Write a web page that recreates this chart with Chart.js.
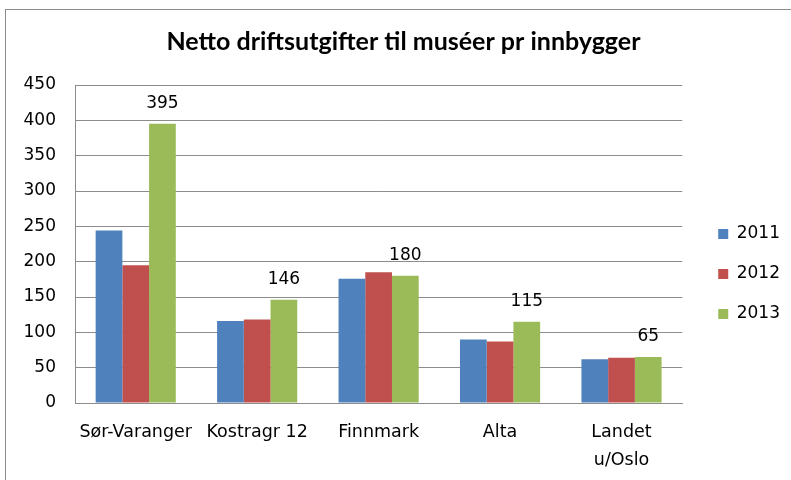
<!DOCTYPE html>
<html>
<head>
<meta charset="utf-8">
<script src="https://cdn.jsdelivr.net/npm/chart.js@4.4.0/dist/chart.umd.min.js"></script>
<style>
  html, body { margin: 0; padding: 0; background: #fff; }
  #wrap { position: relative; width: 791px; height: 480px; }
</style>
</head>
<body>
<div id="wrap"><canvas id="chart" width="791" height="480"></canvas></div>
<script>
// Data
const categories = ["Sør-Varanger", "Kostragr 12", "Finnmark", "Alta", ["Landet", "u/Oslo"]];
const years = ["2011", "2012", "2013"];
const values2011 = [244, 116, 176, 90, 62];
const values2012 = [195, 118, 185, 87, 64];
const values2013 = [395, 146, 180, 115, 65];
const yTicks = [0, 50, 100, 150, 200, 250, 300, 350, 400, 450];

const colors = ["#4F81BD", "#C0504D", "#9BBB59"];
const NUM_FONT = "'DejaVu Sans', sans-serif";
const TITLE_FONT = "Lato, sans-serif";

// outer frame like the spreadsheet chart border
const framePlugin = {
    id: "frame",
    beforeDraw(chart){
        const c = chart.ctx;
        c.save();
        c.fillStyle = "#fff";
        c.fillRect(0, 0, chart.width, chart.height);
        c.strokeStyle = "#8c8c8c";
        c.lineWidth = 1;
        c.strokeRect(5.5, 9.5, chart.width + 10, chart.height + 10);
        c.restore();
    }
};

// nudge title and legend to where the original sits
const nudgePlugin = {
    id: "nudge",
    afterLayout(chart){
        const t = chart.titleBlock;
        t.left += 15; t.right += 15;
        const l = chart.legend;
        l.left += 13; l.right += 13;
        l.top += 34; l.bottom += 34;
    }
};

// value labels over the 2013 bars
const labelPlugin = {
    id: "barLabels",
    afterDatasetsDraw(chart){
        const c = chart.ctx;
        const meta = chart.getDatasetMeta(2);
        c.save();
        c.font = "17px " + NUM_FONT;
        c.fillStyle = "#000";
        c.textAlign = "center";
        c.textBaseline = "middle";
        meta.data.forEach((bar, i) => {
            c.fillText(values2013[i], bar.x, bar.y - 20);
        });
        c.restore();
    }
};

const ctx = document.getElementById("chart").getContext("2d");

new Chart(ctx, {
    type: "bar",
    data: {
        labels: categories,
        datasets: [
            { label: years[0], data: values2011, backgroundColor: colors[0] },
            { label: years[1], data: values2012, backgroundColor: colors[1] },
            { label: years[2], data: values2013, backgroundColor: colors[2] }
        ]
    },
    options: {
        responsive: false,
        animation: false,
        layout: { padding: { left: 0, right: 14, top: 0, bottom: 0 } },
        datasets: { bar: { categoryPercentage: 0.66, barPercentage: 1.0 } },
        plugins: {
            title: {
                display: true,
                text: "Netto driftsutgifter til muséer pr innbygger",
                color: "#000",
                font: { family: TITLE_FONT, size: 25, weight: "bold" },
                padding: { top: 27, bottom: 28 }
            },
            legend: {
                position: "right",
                align: "center",
                labels: {
                    color: "#000",
                    font: { family: NUM_FONT, size: 17 },
                    boxWidth: 10,
                    boxHeight: 10,
                    padding: 23
                }
            },
            tooltip: { enabled: false }
        },
        scales: {
            x: {
                afterFit(scale){ scale.height = 77; },
                grid: { display: false, drawTicks: false },
                border: { color: "#8c8c8c" },
                ticks: {
                    color: "#000",
                    font: { family: NUM_FONT, size: 17.5, lineHeight: 1.6 },
                    padding: 15,
                    maxRotation: 0,
                    autoSkip: false
                }
            },
            y: {
                min: 0,
                max: 450,
                afterFit(scale){ scale.width = 75; },
                afterBuildTicks(scale){ scale.ticks = yTicks.map(v => ({ value: v })); },
                grid: { color: "#8c8c8c", drawTicks: false },
                border: { color: "#8c8c8c" },
                ticks: {
                    color: "#000",
                    font: { family: NUM_FONT, size: 17 },
                    padding: 19
                }
            }
        }
    },
    plugins: [framePlugin, nudgePlugin, labelPlugin]
});
</script>
</body>
</html>
